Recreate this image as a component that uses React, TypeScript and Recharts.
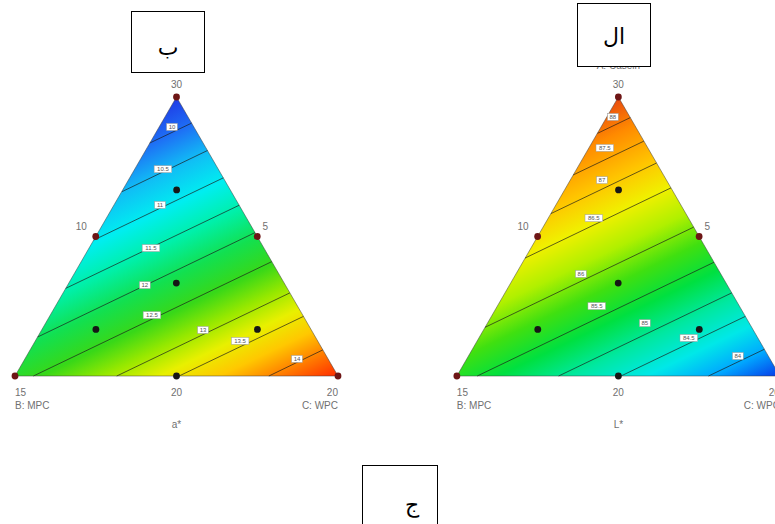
import React from 'react';
import { ComposedChart, XAxis, YAxis, Area, Line, Scatter } from 'recharts';

const CHART_W = 775;
const CHART_H = 524;
const TRI_H = 0.866;

// axis windows (triangle side = 1 unit)
const X_DOMAIN = [-0.0464, 2.3529];
const Y_DOMAIN = [-0.4593, 1.167];

// panel placement (left: a*, right: L*)
const panelIds = ['aStar', 'lStar'];
const panelOffsets = [0, 1.368];
const panelTitles = ['a*', 'L*'];

// ternary design points (A: Casein top, B: MPC left, C: WPC right)
const designPoints = [
  { a: 1, b: 0, c: 0, kind: 'edge' },
  { a: 0, b: 1, c: 0, kind: 'edge' },
  { a: 0, b: 0, c: 1, kind: 'edge' },
  { a: 0.5, b: 0.5, c: 0, kind: 'edge' },
  { a: 0.5, b: 0, c: 0.5, kind: 'edge' },
  { a: 0, b: 0.5, c: 0.5, kind: 'inner' },
  { a: 0.667, b: 0.167, c: 0.167, kind: 'inner' },
  { a: 0.333, b: 0.333, c: 0.333, kind: 'inner' },
  { a: 0.167, b: 0.667, c: 0.167, kind: 'inner' },
  { a: 0.167, b: 0.167, c: 0.667, kind: 'inner' },
];

// triangle corners in drawing order B, A, C
const cornerTernary = [
  { a: 0, b: 1, c: 0 },
  { a: 1, b: 0, c: 0 },
  { a: 0, b: 0, c: 1 },
];

// contour segments [x1, y1, x2, y2] in triangle units
const aStarContours = [
  [0.417, 0.723, 0.547, 0.785],
  [0.331, 0.572, 0.596, 0.7],
  [0.244, 0.422, 0.645, 0.615],
  [0.157, 0.272, 0.694, 0.53],
  [0.07, 0.121, 0.743, 0.445],
  [0.057, 0, 0.795, 0.355],
  [0.315, 0, 0.851, 0.258],
  [0.508, 0, 0.893, 0.185],
  [0.786, 0, 0.953, 0.081],
];
const lStarContours = [
  [0.435, 0.753, 0.537, 0.802],
  [0.36, 0.624, 0.579, 0.729],
  [0.291, 0.504, 0.618, 0.661],
  [0.211, 0.366, 0.663, 0.584],
  [0.087, 0.151, 0.733, 0.462],
  [0.063, 0, 0.796, 0.353],
  [0.315, 0, 0.851, 0.258],
  [0.508, 0, 0.893, 0.185],
  [0.779, 0, 0.952, 0.083],
];

// contour label positions and texts
const aStarLabelPos = [
  [0.486, 0.773], [0.458, 0.642], [0.449, 0.531], [0.421, 0.397], [0.402, 0.282],
  [0.424, 0.189], [0.582, 0.143], [0.697, 0.109], [0.873, 0.053],
];
const aStarLabelText = ['10', '10.5', '11', '11.5', '12', '12.5', '13', '13.5', '14'];
const lStarLabelPos = [
  [0.483, 0.804], [0.458, 0.708], [0.449, 0.608], [0.424, 0.49], [0.384, 0.317],
  [0.433, 0.217], [0.582, 0.164], [0.718, 0.118], [0.87, 0.062],
];
const lStarLabelText = ['88', '87.5', '87', '86.5', '86', '85.5', '85', '84.5', '84'];

// colour ramps along the response gradient
const aStarStops = [
  [0, '#1f3ae6'], [0.1, '#1e70f5'], [0.2, '#10bff5'], [0.3, '#00eef0'], [0.4, '#00f0a8'],
  [0.5, '#12e050'], [0.6, '#38d818'], [0.68, '#95e800'], [0.76, '#e8f000'], [0.84, '#ffc800'],
  [0.92, '#ff7a00'], [1, '#ff2a00'],
];
const lStarStops = [
  [0, '#e84a10'], [0.1, '#ff8a00'], [0.22, '#ffc400'], [0.32, '#f0f000'], [0.42, '#b0f000'],
  [0.52, '#40e010'], [0.62, '#00e040'], [0.72, '#00e8a0'], [0.82, '#00e8e8'], [0.91, '#00a8ff'],
  [1, '#0838e8'],
];

// axis text, in triangle units
const tickTexts = [
  { text: '30', x: 0.5, y: 0.906, anchor: 'middle' },
  { text: '10', x: 0.205, y: 0.4655, anchor: 'middle' },
  { text: '5', x: 0.775, y: 0.4655, anchor: 'middle' },
  { text: '15', x: 0, y: -0.05, anchor: 'start' },
  { text: '20', x: 0.5, y: -0.05, anchor: 'middle' },
  { text: '20', x: 1, y: -0.05, anchor: 'end' },
  { text: 'A: Casein', x: 0.5, y: 0.963, anchor: 'middle' },
  { text: 'B: MPC', x: 0, y: -0.09, anchor: 'start' },
  { text: 'C: WPC', x: 1, y: -0.09, anchor: 'end' },
];

const toXY = (p: { a: number; b: number; c: number }, off: number) => ({
  x: off + p.c + p.a * 0.5,
  y: p.a * TRI_H,
});

const TextMark = (props: any) => {
  const { cx, cy, payload } = props;
  if (cx == null || cy == null) return null;
  return (
    <text
      x={cx}
      y={cy}
      textAnchor={payload.anchor}
      dominantBaseline="central"
      fontFamily="Liberation Sans, Arial, sans-serif"
      fontSize={payload.size || 10}
      fill="#707070"
    >
      {payload.text}
    </text>
  );
};

const DotMark = (props: any) => {
  const { cx, cy, payload } = props;
  if (cx == null || cy == null) return null;
  return <circle cx={cx} cy={cy} r={3.4} fill={payload.kind === 'edge' ? '#6e1616' : '#161616'} />;
};

const LabelMark = (props: any) => {
  const { cx, cy, payload } = props;
  if (cx == null || cy == null) return null;
  const w = payload.text.length * 3.4 + 4;
  return (
    <g>
      <rect x={cx - w / 2} y={cy - 3.5} width={w} height={7} fill="#ffffff" stroke="#9a9a9a" strokeWidth={0.5} />
      <text
        x={cx}
        y={cy}
        textAnchor="middle"
        dominantBaseline="central"
        fontFamily="Liberation Sans, Arial, sans-serif"
        fontSize={6}
        fill="#555"
      >
        {payload.text}
      </text>
    </g>
  );
};

const boxStyle: React.CSSProperties = {
  position: 'absolute',
  border: '1px solid #000',
  background: '#fff',
  boxSizing: 'border-box',
  display: 'flex',
  alignItems: 'center',
  justifyContent: 'center',
  fontFamily: 'DejaVu Sans, sans-serif',
  fontSize: 22,
  color: '#000',
};

export default function App() {
  const contourSets = [aStarContours, lStarContours];
  const labelPosSets = [aStarLabelPos, lStarLabelPos];
  const labelTextSets = [aStarLabelText, lStarLabelText];
  const stopSets = [aStarStops, lStarStops];

  const items: React.ReactNode[] = [];

  panelIds.forEach((id, pi) => {
    const off = panelOffsets[pi];
    const corners = cornerTernary.map((p) => toXY(p, off));
    items.push(
      <Area
        key={`area-${id}`}
        data={corners}
        dataKey="y"
        type="linear"
        baseValue={0}
        fill={`url(#grad-${id})`}
        fillOpacity={1}
        stroke="none"
        dot={false}
        activeDot={false}
        isAnimationActive={false}
      />
    );
  });

  panelIds.forEach((id, pi) => {
    const off = panelOffsets[pi];
    contourSets[pi].forEach((seg, si) => {
      items.push(
        <Line
          key={`ct-${id}-${si}`}
          data={[
            { x: off + seg[0], y: seg[1] },
            { x: off + seg[2], y: seg[3] },
          ]}
          dataKey="y"
          type="linear"
          stroke="#1b1b1b"
          strokeOpacity={0.85}
          strokeWidth={0.8}
          dot={false}
          activeDot={false}
          isAnimationActive={false}
        />
      );
    });
    const corners = cornerTernary.map((p) => toXY(p, off));
    items.push(
      <Line
        key={`outline-${id}`}
        data={[...corners, corners[0]]}
        dataKey="y"
        type="linear"
        stroke="#3a3a3a"
        strokeOpacity={0.7}
        strokeWidth={0.7}
        dot={false}
        activeDot={false}
        isAnimationActive={false}
      />
    );
  });

  panelIds.forEach((id, pi) => {
    const off = panelOffsets[pi];
    items.push(
      <Scatter
        key={`pts-${id}`}
        data={designPoints.map((p) => ({ ...toXY(p, off), kind: p.kind }))}
        shape={DotMark}
        isAnimationActive={false}
      />
    );
    items.push(
      <Scatter
        key={`lbl-${id}`}
        data={labelPosSets[pi].map((p, i) => ({ x: off + p[0], y: p[1], text: labelTextSets[pi][i] }))}
        shape={LabelMark}
        isAnimationActive={false}
      />
    );
    items.push(
      <Scatter
        key={`txt-${id}`}
        data={[
          ...tickTexts.map((t) => ({ ...t, x: off + t.x })),
          { text: panelTitles[pi], x: off + 0.5, y: -0.152, anchor: 'middle', size: 10 },
        ]}
        shape={TextMark}
        isAnimationActive={false}
      />
    );
  });

  return (
    <div
      style={{
        position: 'absolute',
        left: 0,
        top: 0,
        width: CHART_W,
        height: CHART_H,
        overflow: 'hidden',
        background: '#fff',
      }}
    >
      <ComposedChart width={CHART_W} height={CHART_H} margin={{ top: 0, right: 0, bottom: 0, left: 0 }}>
        <defs>
          {panelIds.map((id, pi) => (
            <linearGradient key={id} id={`grad-${id}`} x1="0.5" y1="0" x2="1.043" y2="0.976">
              {stopSets[pi].map(([o, c], i) => (
                <stop key={i} offset={o as number} stopColor={c as string} />
              ))}
            </linearGradient>
          ))}
        </defs>
        <XAxis type="number" dataKey="x" domain={X_DOMAIN} allowDataOverflow hide />
        <YAxis type="number" dataKey="y" domain={Y_DOMAIN} allowDataOverflow hide />
        {items}
      </ComposedChart>
      <div style={{ ...boxStyle, left: 131, top: 11, width: 74, height: 62 }}>
        <span style={{ position: 'relative', top: 5 }}>ب</span>
      </div>
      <div style={{ ...boxStyle, left: 577, top: 3, width: 74, height: 64 }}>
        <span style={{ position: 'relative', top: 1 }}>ال</span>
      </div>
      <div style={{ ...boxStyle, left: 362, top: 465, width: 76, height: 72 }}>
        <span style={{ position: 'relative', top: 3, left: 12 }}>ج</span>
      </div>
    </div>
  );
}
